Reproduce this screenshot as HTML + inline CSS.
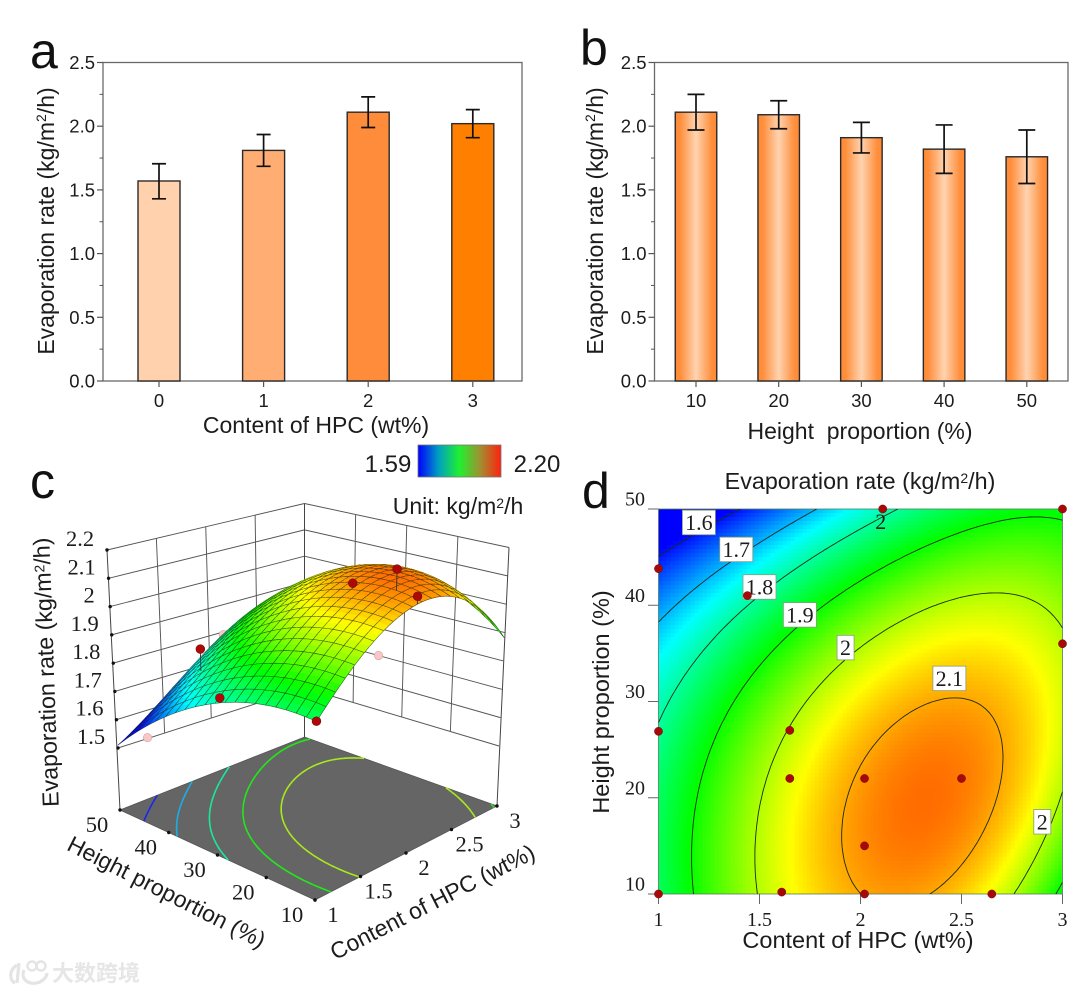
<!DOCTYPE html>
<html lang="en">
<head>
<meta charset="utf-8">
<title>Evaporation rate charts</title>
<style>
html,body{margin:0;padding:0;background:#fff;width:1080px;height:993px;overflow:hidden}
svg{display:block;filter:blur(.35px)}
text{font-family:"Liberation Sans",sans-serif;fill:#1c1c1c}
.serif{font-family:"Liberation Serif",serif}
.panel{font-size:50px;fill:#111}
.tick{font-size:18.5px}
.title{font-size:23px}
</style>
</head>
<body>
<svg id="fig" xmlns="http://www.w3.org/2000/svg" width="1080" height="993" viewBox="0 0 1080 993">
  <defs>
    <linearGradient id="barB" x1="0" x2="1" y1="0" y2="0">
      <stop offset="0" stop-color="#ff8a33"/><stop offset=".12" stop-color="#ff8f3d"/>
      <stop offset=".5" stop-color="#ffd3b0"/><stop offset=".88" stop-color="#ff8f3d"/><stop offset="1" stop-color="#ff8a33"/>
    </linearGradient>
    <linearGradient id="cbar" x1="0" x2="1" y1="0" y2="0">
      <stop offset="0" stop-color="#0000ff"/><stop offset=".25" stop-color="#00a0c0"/>
      <stop offset=".5" stop-color="#20f030"/><stop offset=".75" stop-color="#a09030"/><stop offset="1" stop-color="#ff2010"/>
    </linearGradient>
    <clipPath id="heatClip"><rect x="658.5" y="509" width="404" height="385"/></clipPath>
  </defs>

  <g id="panelA"></g>
  <g id="panelB"></g>
  <g id="panelC"></g>
  <g id="panelD"></g>

  <text class="panel" x="30" y="68">a</text>
  <text class="panel" x="580" y="65">b</text>
  <text class="panel" x="30" y="498">c</text>
  <text class="panel" x="582" y="508">d</text>

  <text class="title" text-anchor="middle" transform="translate(54,221) rotate(-90)">Evaporation rate (kg/m<tspan dy="-8" font-size="14">2</tspan><tspan dy="8">/h)</tspan></text>
  <text class="title" x="316" y="433" text-anchor="middle">Content of HPC (wt%)</text>
  <text class="title" text-anchor="middle" transform="translate(603,221) rotate(-90)">Evaporation rate (kg/m<tspan dy="-8" font-size="14">2</tspan><tspan dy="8">/h)</tspan></text>
  <text class="title" x="860" y="439" text-anchor="middle" xml:space="preserve">Height  proportion (%)</text>

  <g>
    <rect x="418" y="445" width="83" height="32" fill="url(#cbar)" stroke="#777" stroke-width=".8"/>
    <text x="388" y="472" font-size="24" text-anchor="middle">1.59</text>
    <text x="537" y="472" font-size="24" text-anchor="middle">2.20</text>
  </g>
  <text x="458" y="514" font-size="23" text-anchor="middle">Unit: kg/m<tspan dy="-6" font-size="14">2</tspan><tspan dy="6">/h</tspan></text>

  <text text-anchor="middle" font-size="23.2" transform="translate(54,672) rotate(-92)">Evaporation rate (kg/m<tspan dy="-6" font-size="14">2</tspan><tspan dy="6">/h)</tspan></text>
  <text text-anchor="middle" font-size="23" transform="translate(163,899) rotate(27)">Height proportion (%)</text>
  <text text-anchor="middle" font-size="23" transform="translate(436,909) rotate(-27)">Content of HPC (wt%)</text>

  <text x="860" y="489" font-size="23.3" text-anchor="middle">Evaporation rate (kg/m<tspan dy="-6" font-size="14">2</tspan><tspan dy="6">/h)</tspan></text>
  <text x="858" y="948" font-size="23.5" text-anchor="middle">Content of HPC (wt%)</text>
  <text text-anchor="middle" font-size="23.5" transform="translate(609,702) rotate(-90)">Height proportion (%)</text>

  <g>
    <path d="M17 965 C9 970 9 980 15 983 M19 963 L17 983 M24 970 C20 980 30 986 40 982 C45 979 47 976 47 973" fill="none" stroke="#e4e4e4" stroke-width="3.2"/>
    <circle cx="32" cy="966" r="4.5" fill="none" stroke="#e4e4e4" stroke-width="2.4"/>
    <circle cx="41" cy="966" r="4.5" fill="none" stroke="#e4e4e4" stroke-width="2.4"/>
    <text x="52" y="981" font-size="22" font-weight="700" style="font-family:'Liberation Sans','Noto Sans CJK SC',sans-serif;fill:#e6e6e6">大数跨境</text>
  </g>
</svg>

<script>
/* ---------- panel a data ---------- */
const hpcCategories = ['0', '1', '2', '3'];
const hpcRates = [1.57, 1.81, 2.11, 2.02];
const hpcErrUp = [0.135, 0.125, 0.12, 0.11];
const hpcErrDown = [0.14, 0.125, 0.12, 0.11];
/* ---------- panel b data ---------- */
const heightCategories = ['10', '20', '30', '40', '50'];
const heightRates = [2.11, 2.09, 1.91, 1.82, 1.76];
const heightErrUp = [0.14, 0.11, 0.12, 0.19, 0.21];
const heightErrDown = [0.14, 0.11, 0.12, 0.19, 0.21];
const barTickLabels = ['0.0', '0.5', '1.0', '1.5', '2.0', '2.5'];
const barTickValues = [0, 0.5, 1, 1.5, 2, 2.5];
/* ---------- response surface (panels c, d) ---------- */
const gridHpc = [1, 1.25, 1.5, 1.75, 2, 2.25, 2.5, 2.75, 3];
const gridHeight = [10, 15, 20, 25, 30, 35, 40, 45, 50];
const gridRate = [
  [1.84, 1.92, 2.00, 2.06, 2.10, 2.11, 2.075, 2.00, 1.88],
  [1.85, 1.93, 2.01, 2.08, 2.115, 2.13, 2.11, 2.05, 1.96],
  [1.83, 1.92, 1.995, 2.06, 2.115, 2.135, 2.125, 2.08, 1.995],
  [1.815, 1.895, 1.97, 2.04, 2.09, 2.125, 2.125, 2.09, 2.015],
  [1.79, 1.87, 1.935, 2.00, 2.06, 2.097, 2.105, 2.08, 2.03],
  [1.735, 1.805, 1.885, 1.945, 2.005, 2.04, 2.06, 2.05, 2.015],
  [1.68, 1.745, 1.825, 1.885, 1.945, 1.99, 2.01, 2.01, 1.985],
  [1.60, 1.665, 1.72, 1.80, 1.865, 1.91, 1.94, 1.955, 1.945],
  [1.51, 1.565, 1.62, 1.69, 1.755, 1.815, 1.855, 1.885, 1.885]
];
const contourLevels = [1.6, 1.7, 1.8, 1.9, 2.0, 2.1];
const floorLevels = [1.6, 1.7, 1.8, 1.9, 2.0];
const contourLabelText = ['1.6', '1.7', '1.8', '1.9', '2', '2.1', '2'];
const contourLabelHpc = [1.20, 1.385, 1.50, 1.70, 1.926, 2.44, 2.90];
const contourLabelHeight = [48.6, 45.8, 41.9, 39, 35.6, 32.4, 17.5];
const designHpc = [1, 1, 1, 1.44, 1.61, 1.65, 1.65, 2.02, 2.02, 2.02, 2.5, 2.65, 3, 3, 2.11];
const designHeight = [10, 26.9, 43.8, 41, 10.2, 27, 22, 22, 15, 10, 22, 10, 36, 50, 50];
const pointHpc = [1, 1, 1.44, 2.02, 2.1, 2.05, 1, 2.15, 3];
const pointHeight = [10, 29, 41, 22, 15, 10, 43.8, 50, 35];
const pointRate = [1.84, 1.808, 1.86, 2.125, 2.195, 2.13, 1.58, 1.79, 1.70];
const pointBehindSurface = [false, false, false, false, false, false, true, true, true];
const heatXTicks = ['1', '1.5', '2', '2.5', '3'];
const heatXTickValues = [1, 1.5, 2, 2.5, 3];
const heatYTicks = ['10', '20', '30', '40', '50'];
const heatYTickValues = [10, 20, 30, 40, 50];
const zTicks = ['1.5', '1.6', '1.7', '1.8', '1.9', '2', '2.1', '2.2'];
const zTickValues = [1.5, 1.6, 1.7, 1.8, 1.9, 2, 2.1, 2.2];

const NS = 'http://www.w3.org/2000/svg';
function el(parent, tag, attrs) {
  const n = document.createElementNS(NS, tag);
  for (const k in attrs) n.setAttribute(k, attrs[k]);
  parent.appendChild(n);
  return n;
}

/* ---------- bar panels ---------- */
function drawBars(g, box, cats, vals, up, down, fills, capW, barW) {
  const y = v => box.bottom - v / 2.5 * (box.bottom - box.top);
  const x = i => box.x0 + i * box.dx;
  const frame = el(g, 'rect', {x: box.left, y: box.top, width: box.right - box.left, height: box.bottom - box.top, fill: 'none', stroke: '#6a6a6a', 'stroke-width': 1.3});
  
  
  for (let m = 0.25; m < 2.5; m += 0.5) {
    const t = el(g, 'line', {x1: box.left - 3.5, x2: box.left, y1: y(m), y2: y(m), stroke: '#555', 'stroke-width': 1});
    
    
  }
  barTickValues.forEach((v, i) => {
    const t = el(g, 'line', {x1: box.left - 6, x2: box.left, y1: y(v), y2: y(v), stroke: '#555', 'stroke-width': 1.2});
    
    
    const l = el(g, 'text', {x: box.left - 8, y: y(v) + 6.5, 'text-anchor': 'end', class: 'tick'});
    l.textContent = barTickLabels[i];
    
    
  });
  cats.forEach((c, i) => {
    const b = el(g, 'rect', {x: x(i) - barW / 2, y: y(vals[i]), width: barW, height: box.bottom - y(vals[i]), fill: fills[i], stroke: '#2a2a2a', 'stroke-width': 1.4});
    
    
    const e = el(g, 'path', {d: `M${x(i) - capW / 2} ${y(vals[i] + up[i])}H${x(i) + capW / 2}M${x(i)} ${y(vals[i] + up[i])}V${y(vals[i] - down[i])}M${x(i) - capW / 2} ${y(vals[i] - down[i])}H${x(i) + capW / 2}`, fill: 'none', stroke: '#111', 'stroke-width': 1.7});
    
    
    const t = el(g, 'line', {x1: x(i), x2: x(i), y1: box.bottom, y2: box.bottom + 6, stroke: '#555', 'stroke-width': 1.2});
    
    
    const l = el(g, 'text', {x: x(i), y: box.bottom + 26, 'text-anchor': 'middle', class: 'tick'});
    l.textContent = c;
    
    
  });
}
const panelAFills = ['#ffd2ad', '#ffad72', '#ff8c3a', '#ff8000'];
drawBars(document.getElementById('panelA'), {left: 103, right: 522, top: 62.5, bottom: 381, x0: 159, dx: 104.6}, hpcCategories, hpcRates, hpcErrUp, hpcErrDown, panelAFills, 14, 42);
drawBars(document.getElementById('panelB'), {left: 654.5, right: 1068, top: 62.5, bottom: 381, x0: 696, dx: 82.7}, heightCategories, heightRates, heightErrUp, heightErrDown, heightCategories.map(() => 'url(#barB)'), 17, 41.5);

/* ---------- smooth least-squares surface through gridRate ---------- */
const DEG = 3;
function basis(hpc, height) {
  const u = hpc - 2, v = (height - 30) / 20, out = [];
  for (let a = 0; a <= DEG; a++) for (let b = 0; b <= DEG; b++) out.push(Math.pow(u, a) * Math.pow(v, b));
  return out;
}
function fitSurface() {
  const m = (DEG + 1) * (DEG + 1);
  const A = [];
  for (let i = 0; i < m; i++) A.push(new Array(m + 1).fill(0));
  gridHeight.forEach((h, r) => gridHpc.forEach((x, c) => {
    const t = basis(x, h);
    for (let i = 0; i < m; i++) {
      for (let j = 0; j < m; j++) A[i][j] += t[i] * t[j];
      A[i][m] += t[i] * gridRate[r][c];
    }
  }));
  for (let i = 0; i < m; i++) {
    let p = i;
    for (let k = i + 1; k < m; k++) if (Math.abs(A[k][i]) > Math.abs(A[p][i])) p = k;
    const tmp = A[i]; A[i] = A[p]; A[p] = tmp;
    for (let k = 0; k < m; k++) if (k !== i) {
      const f = A[k][i] / A[i][i];
      for (let j = i; j <= m; j++) A[k][j] -= f * A[i][j];
    }
  }
  return A.map((row, i) => row[m] / row[i]);
}
const coef = fitSurface();
function rateAt(hpc, height) {
  const t = basis(hpc, height);
  let s = 0;
  for (let i = 0; i < t.length; i++) s += t[i] * coef[i];
  return s;
}
function colorRGB(z) {
  const stops = [[0, 0, 255], [0, 255, 255], [0, 255, 0], [255, 255, 0], [255, 0, 0]];
  const t = Math.max(0, Math.min(1, (z - 1.59) / 0.61)) * 4;
  const i = Math.min(3, Math.floor(t)), f = t - i;
  return stops[i].map((s, k) => Math.round(s + (stops[i + 1][k] - s) * f));
}
function color(z) { return 'rgb(' + colorRGB(z).join(',') + ')'; }
const fineN = 100;
function fineGrid() {
  const a = [];
  for (let j = 0; j <= fineN; j++) {
    const row = [];
    for (let i = 0; i <= fineN; i++) row.push(rateAt(1 + 2 * i / fineN, 10 + 40 * j / fineN));
    a.push(row);
  }
  return a;
}
const fine = fineGrid();
function contourPath(level, proj) {
  let d = '';
  const seg = (p, q) => {
    const A = proj(p[0], p[1]), B = proj(q[0], q[1]);
    d += 'M' + A[0].toFixed(1) + ' ' + A[1].toFixed(1) + 'L' + B[0].toFixed(1) + ' ' + B[1].toFixed(1);
  };
  for (let j = 0; j < fineN; j++) for (let i = 0; i < fineN; i++) {
    const x0 = 1 + 2 * i / fineN, x1 = 1 + 2 * (i + 1) / fineN, h0 = 10 + 40 * j / fineN, h1 = 10 + 40 * (j + 1) / fineN;
    const v = [fine[j][i], fine[j][i + 1], fine[j + 1][i + 1], fine[j + 1][i]];
    const c = [[x0, h0], [x1, h0], [x1, h1], [x0, h1]], pts = [];
    for (let k = 0; k < 4; k++) {
      const a = v[k], b = v[(k + 1) % 4];
      if ((a - level) * (b - level) < 0) {
        const t = (level - a) / (b - a), P = c[k], Q = c[(k + 1) % 4];
        pts.push([P[0] + (Q[0] - P[0]) * t, P[1] + (Q[1] - P[1]) * t]);
      }
    }
    if (pts.length === 2) seg(pts[0], pts[1]);
    if (pts.length === 4) { seg(pts[0], pts[1]); seg(pts[2], pts[3]); }
  }
  return d;
}

/* ---------- panel d ---------- */
(function () {
  const g = document.getElementById('panelD');
  const X = v => 658.5 + (v - 1) / 2 * 404;
  const Y = v => 894 - (v - 10) / 40 * 385;
  const hm = el(g, 'g', {'clip-path': 'url(#heatClip)', 'shape-rendering': 'crispEdges'});
  
  
  const step = 4;
  for (let py = 509; py < 894; py += step) for (let px = 658.5; px < 1062.5; px += step) {
    const hv = 10 + (894 - py - step / 2) / 385 * 40, xv = 1 + (px + step / 2 - 658.5) / 404 * 2;
    const c = el(hm, 'rect', {x: px, y: py, width: step + .5, height: step + .5, fill: color(rateAt(xv, hv))});
    
    
  }
  const frame = el(g, 'rect', {x: 658.5, y: 509, width: 404, height: 385, fill: 'none', stroke: '#5a7a5a', 'stroke-width': .8});
  
  
  contourLevels.forEach(lv => {
    const p = el(g, 'path', {d: contourPath(lv, (x, h) => [X(x), Y(h)]), fill: 'none', stroke: '#1a2a1a', 'stroke-width': .9, 'clip-path': 'url(#heatClip)'});
    
    
  });
  heatYTickValues.forEach((v, i) => {
    const t = el(g, 'line', {x1: 648, x2: 658.5, y1: Y(v), y2: Y(v), stroke: '#666', 'stroke-width': 1});
    
    
    const l = el(g, 'text', {x: 645, y: Y(v) - 3.5, 'text-anchor': 'end', class: 'serif', 'font-size': 20});
    l.textContent = heatYTicks[i];
    
    
  });
  heatXTickValues.forEach((v, i) => {
    const t = el(g, 'line', {x1: X(v), x2: X(v), y1: 894, y2: 904, stroke: '#666', 'stroke-width': 1});
    
    
    const l = el(g, 'text', {x: X(v), y: 926, 'text-anchor': 'middle', class: 'serif', 'font-size': 20});
    l.textContent = heatXTicks[i];
    
    
  });
  contourLabelText.forEach((s, i) => {
    const w = s.length > 1 ? 33 : 17, h = 24.5, cx = X(contourLabelHpc[i]), cy = Y(contourLabelHeight[i]);
    const b = el(g, 'rect', {x: cx - w / 2, y: cy - h / 2, width: w, height: h, fill: '#fff', stroke: '#8a9a80', 'stroke-width': .8});
    
    
    const l = el(g, 'text', {x: cx, y: cy + 7.5, 'text-anchor': 'middle', class: 'serif', 'font-size': 22});
    l.textContent = s;
    
    
  });
  const topLab = el(g, 'text', {x: X(2.1), y: Y(48.7) + 7.5, 'text-anchor': 'middle', class: 'serif', 'font-size': 22});
  topLab.textContent = '2';
  
  
  designHpc.forEach((x, i) => {
    const c = el(g, 'circle', {cx: X(x), cy: Y(designHeight[i]), r: 4.1, fill: '#a80808', stroke: '#701010', 'stroke-width': .5});
    
    
  });
})();

/* ---------- panel c ---------- */
(function () {
  const g = document.getElementById('panelC');
  const low = {F: [315, 830], R: [499, 746], L: [118, 748], B: [304.5, 688]};
  const high = {F: [318, 606], R: [509, 547.5], L: [107, 550], B: [304.5, 503.5]};
  const floor = {F: [315, 900], R: [497, 806], L: [120, 810], B: [304.5, 737]};
  function bil(c, x, h) {
    const u = (x - 1) / 2, v = (h - 10) / 40;
    const w = [(1 - u) * (1 - v), u * (1 - v), (1 - u) * v, u * v];
    return [0, 1].map(k => c.F[k] * w[0] + c.R[k] * w[1] + c.L[k] * w[2] + c.B[k] * w[3]);
  }
  function P(x, h, z) {
    const a = bil(low, x, h), b = bil(high, x, h), t = (z - 1.5) / 0.7;
    return [a[0] + (b[0] - a[0]) * t, a[1] + (b[1] - a[1]) * t];
  }
  const F = (x, h) => bil(floor, x, h);
  const line = (A, B, name, stroke, w) => {
    const n = el(g, 'line', {x1: A[0], y1: A[1], x2: B[0], y2: B[1], stroke: stroke, 'stroke-width': w});
    
    
    return n;
  };
  /* walls */
  zTickValues.forEach(z => {
    line(P(1, 50, z), P(3, 50, z), 'back-wall-gridline', '#555', .95);
    line(P(3, 50, z), P(3, 10, z), 'side-wall-gridline', '#555', .95);
  });
  [1.5, 2, 2.5].forEach(x => line(P(x, 50, 1.5), P(x, 50, 2.2), 'back-wall-gridline', '#555', .95));
  [20, 30, 40].forEach(h => line(P(3, h, 1.5), P(3, h, 2.2), 'side-wall-gridline', '#555', .95));
  line(P(1, 50, 2.2), F(1, 50), 'left-edge', '#444', 1);
  line(P(3, 50, 2.2), F(3, 50), 'back-edge', '#444', 1);
  line(P(3, 10, 2.2), F(3, 10), 'right-edge', '#444', 1);
  /* floor */
  const fc = [F(1, 10), F(3, 10), F(3, 50), F(1, 50)];
  const floorPoly = el(g, 'polygon', {points: fc.map(p => p.join(',')).join(' '), fill: '#656565', stroke: '#555', 'stroke-width': .8});
  
  
  floorLevels.forEach(lv => {
    const rgb = colorRGB(lv).map(v => Math.round(v * .82 + 25));
    const p = el(g, 'path', {d: contourPath(lv, F), fill: 'none', stroke: 'rgb(' + rgb.join(',') + ')', 'stroke-width': 1.6});
    
    
  });
  /* points behind surface */
  pointHpc.forEach((x, i) => {
    if (pointBehindSurface[i]) {
      const q = P(x, pointHeight[i], pointRate[i]);
      const c = el(g, 'circle', {cx: q[0], cy: q[1], r: 4.2, fill: '#f8c8c8', stroke: '#d8a0a0', 'stroke-width': .6});
      
      
    }
  });
  /* surface, painted far to near */
  const surf = el(g, 'g', {});
  
  
  const N = 40;
  const xv = i => 1 + 2 * i / N, hv = j => 10 + 40 * j / N;
  const node = [];
  for (let i = 0; i <= N; i++) {
    node.push([]);
    for (let j = 0; j <= N; j++) {
      const z = rateAt(xv(i), hv(j));
      node[i].push({p: P(xv(i), hv(j), z), z: z});
    }
  }
  const pf = a => a.p[0].toFixed(1) + ' ' + a.p[1].toFixed(1);
  for (let i = N - 1; i >= 0; i--) for (let j = N - 1; j >= 0; j--) {
    const a = node[i][j], b = node[i + 1][j], c = node[i + 1][j + 1], d = node[i][j + 1];
    const col = color((a.z + b.z + c.z + d.z) / 4);
    const q = el(surf, 'polygon', {points: [a, b, c, d].map(pf).join(','), fill: col, stroke: col, 'stroke-width': .4});
    
    
    let m = '';
    if (j % 2 === 0) m += 'M' + pf(a) + 'L' + pf(b);
    if ((j + 1) % 2 === 0) m += 'M' + pf(d) + 'L' + pf(c);
    if (i % 2 === 0) m += 'M' + pf(a) + 'L' + pf(d);
    if ((i + 1) % 2 === 0) m += 'M' + pf(b) + 'L' + pf(c);
    if (m) {
      const l = el(surf, 'path', {d: m, fill: 'none', stroke: '#1c2a10', 'stroke-width': .55, 'stroke-opacity': .75});
      
      
    }
  }
  /* points above surface */
  pointHpc.forEach((x, i) => {
    if (pointBehindSurface[i]) return;
    const q = P(x, pointHeight[i], pointRate[i]);
    const s = P(x, pointHeight[i], rateAt(x, pointHeight[i]));
    line(q, s, 'design-point-stem', '#333', .9);
    const c = el(g, 'circle', {cx: q[0], cy: q[1], r: 4.4, fill: '#b00808', stroke: '#701010', 'stroke-width': .6});
    
    
  });
  /* ticks & labels */
  const dot = (p, name) => {
    const c = el(g, 'circle', {cx: p[0], cy: p[1], r: 1.7, fill: '#111'});
    
    
  };
  const label = (x, y, s, name) => {
    const l = el(g, 'text', {x: x, y: y, 'text-anchor': 'middle', class: 'serif', 'font-size': 22.5});
    l.textContent = s;
    
    
  };
  zTickValues.forEach((z, i) => {
    const p = P(1, 50, z);
    dot(p, 'z-tick');
    label(p[0] - 27 - (zTicks[i].length > 1 ? 0 : -6), p[1] - 4, zTicks[i], 'z-tick-label');
  });
  heatYTickValues.forEach((h, i) => {
    const p = F(1, h);
    dot(p, 'height-tick');
    label(p[0] - 23, p[1] + 22, heatYTicks[i], 'height-tick-label');
  });
  heatXTickValues.forEach((x, i) => {
    const p = F(x, 10);
    dot(p, 'hpc-tick');
    label(p[0] + 18, p[1] + 22, heatXTicks[i], 'hpc-tick-label');
  });
})();
</script>
</body>
</html>
